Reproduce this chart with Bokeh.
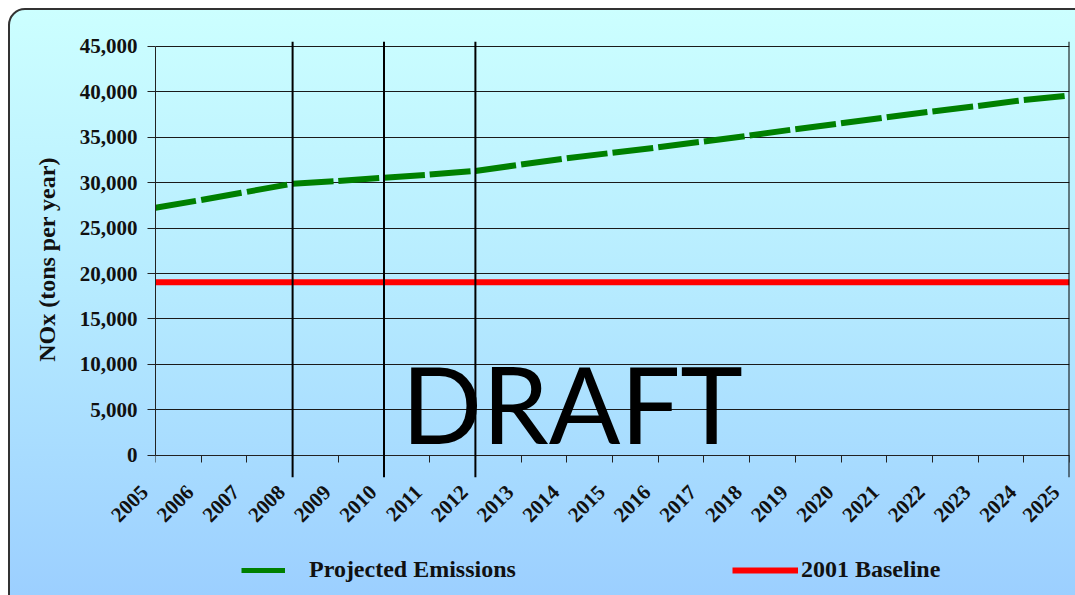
from bokeh.plotting import figure
from bokeh.layouts import column
from bokeh.models import (Range1d, FixedTicker, NumeralTickFormatter, Legend, LegendItem,
                          Label, Span, LinearAxis)
from bokeh.embed import file_html
from bokeh.resources import INLINE
from math import pi

# NOx emissions, tons per year
years = [2005, 2006, 2007, 2008, 2009, 2010, 2011, 2012, 2013, 2014, 2015,
         2016, 2017, 2018, 2019, 2020, 2021, 2022, 2023, 2024, 2025]
projected_emissions = [27250, 28100, 29000, 29900, 30200, 30550, 30900, 31300, 32000, 32700, 33300,
                       33900, 34550, 35200, 35900, 36550, 37200, 37850, 38450, 39100, 39600]
baseline_2001 = 19050
milestone_years = [2008, 2010, 2012, 2025]
y_ticks = [0, 5000, 10000, 15000, 20000, 25000, 30000, 35000, 40000, 45000]

SERIF = "Liberation Serif"

# page background: rounded panel with a vertical cyan-to-blue gradient
panel_svg = (
    "<svg xmlns='http://www.w3.org/2000/svg' width='1075' height='595'>"
    "<defs><linearGradient id='g' x1='0' y1='0' x2='0' y2='1'>"
    "<stop offset='0' stop-color='%23ccffff'/><stop offset='0.45' stop-color='%23b6ebff'/>"
    "<stop offset='1' stop-color='%2399ccff'/></linearGradient></defs>"
    "<rect x='9' y='9' width='1100' height='620' rx='16' ry='16' fill='url(%23g)' "
    "stroke='%23333333' stroke-width='2'/></svg>"
)

# y range padded so the milestone markers overhang the 0 and 45,000 gridlines
p = figure(width=1075, height=545, output_backend="svg", toolbar_location=None,
           x_range=Range1d(2005, 2025), y_range=Range1d(-2450, 45550),
           min_border_left=155, min_border_right=6, min_border_top=41, min_border_bottom=68)

p.background_fill_color = None
p.border_fill_color = None
p.outline_line_color = None

# year labels sit along the bottom of the frame; the axis line and ticks are drawn at zero
p.xaxis.ticker = FixedTicker(ticks=years)
p.xaxis.major_label_overrides = {yr: f"{yr}\u00a0\u00a0\u00a0" for yr in years}
p.xaxis.major_label_orientation = pi / 4
p.xaxis.minor_tick_line_color = None
p.xaxis.major_tick_line_color = None
p.xaxis.axis_line_color = None
p.xaxis.major_tick_out = 0
p.xaxis.major_tick_in = 0
p.xaxis.major_label_standoff = 0

zero_axis = LinearAxis(fixed_location=0, ticker=FixedTicker(ticks=years),
                       major_label_text_color=None, major_label_text_alpha=0,
                       major_label_text_font_size="1px", major_label_standoff=0,
                       minor_tick_line_color=None, major_tick_out=7, major_tick_in=0,
                       axis_line_color="#222222", major_tick_line_color="#222222")
p.add_layout(zero_axis, "below")

p.yaxis.bounds = (0, 45000)
p.yaxis.ticker = FixedTicker(ticks=y_ticks)
p.yaxis.formatter = NumeralTickFormatter(format="0,0")
p.yaxis.minor_tick_line_color = None
p.yaxis.major_tick_out = 8
p.yaxis.major_tick_in = 0
p.yaxis.major_label_standoff = 10
p.yaxis.axis_line_color = "#222222"
p.yaxis.major_tick_line_color = "#222222"
p.yaxis.axis_label = "NOx (tons per year)"
p.yaxis.axis_label_text_font = SERIF
p.yaxis.axis_label_text_font_style = "bold"
p.yaxis.axis_label_text_font_size = "24px"
p.yaxis.axis_label_text_color = "#111111"
p.yaxis.axis_label_standoff = 17

for ax in (p.xaxis, p.yaxis):
    ax.major_label_text_font = SERIF
    ax.major_label_text_font_style = "bold"
    ax.major_label_text_font_size = "21px"
    ax.major_label_text_color = "#111111"

p.xgrid.grid_line_color = None
p.ygrid.ticker = FixedTicker(ticks=y_ticks)
p.ygrid.grid_line_color = "#1a1a1a"
p.ygrid.grid_line_width = 1

# 2001 baseline
p.line(x=years, y=[baseline_2001] * len(years), line_color="#ff0000", line_width=6)

# projected emissions, one dash per year
p.segment(x0=years[:-1], y0=projected_emissions[:-1], x1=years[1:], y1=projected_emissions[1:],
          line_color="#008000", line_width=6, line_dash="41 30", line_cap="butt")

# milestone markers
for yr in milestone_years:
    p.add_layout(Span(location=yr, dimension="height", line_color="#000000", line_width=2))

p.add_layout(Label(x=2014.12, y=5700, text="DRAFT", text_font="Lato", text_font_size="106px",
                   text_align="center", text_baseline="middle", text_color="#000000"))

# legend strip under the chart (its frame is aligned with the chart frame)
key = figure(width=1075, height=50, output_backend="svg", toolbar_location=None,
             x_range=Range1d(0, 1), y_range=Range1d(0, 1),
             x_axis_location=None, y_axis_location=None, min_border=0)
key.grid.visible = False
key.background_fill_color = None
key.border_fill_color = None
key.outline_line_color = None
proj_key = key.line(x=years, y=projected_emissions, line_color="#008000", line_width=5, visible=False)
base_key = key.line(x=years, y=[baseline_2001] * len(years), line_color="#ff0000", line_width=6,
                    visible=False)

def make_legend(label, renderer, x, glyph_w, standoff):
    return Legend(items=[LegendItem(label=label, renderers=[renderer])],
                  location=(x, 12), orientation="horizontal",
                  glyph_width=glyph_w, glyph_height=26, label_height=26,
                  label_standoff=standoff, padding=0, margin=0, spacing=0,
                  border_line_color=None, background_fill_alpha=0,
                  inactive_fill_alpha=0,
                  label_text_font=SERIF, label_text_font_style="bold",
                  label_text_font_size="24px", label_text_color="#111111")

key.add_layout(make_legend("Projected Emissions", proj_key, 86, 44, 24))
key.add_layout(make_legend("2001 Baseline", base_key, 577, 66, 3))

page = column(p, key, spacing=0)
page.styles = {"background": 'url("data:image/svg+xml;utf8,' + panel_svg + '") no-repeat, #ffffff'}

open("out.html", "w").write(file_html(page, INLINE))
